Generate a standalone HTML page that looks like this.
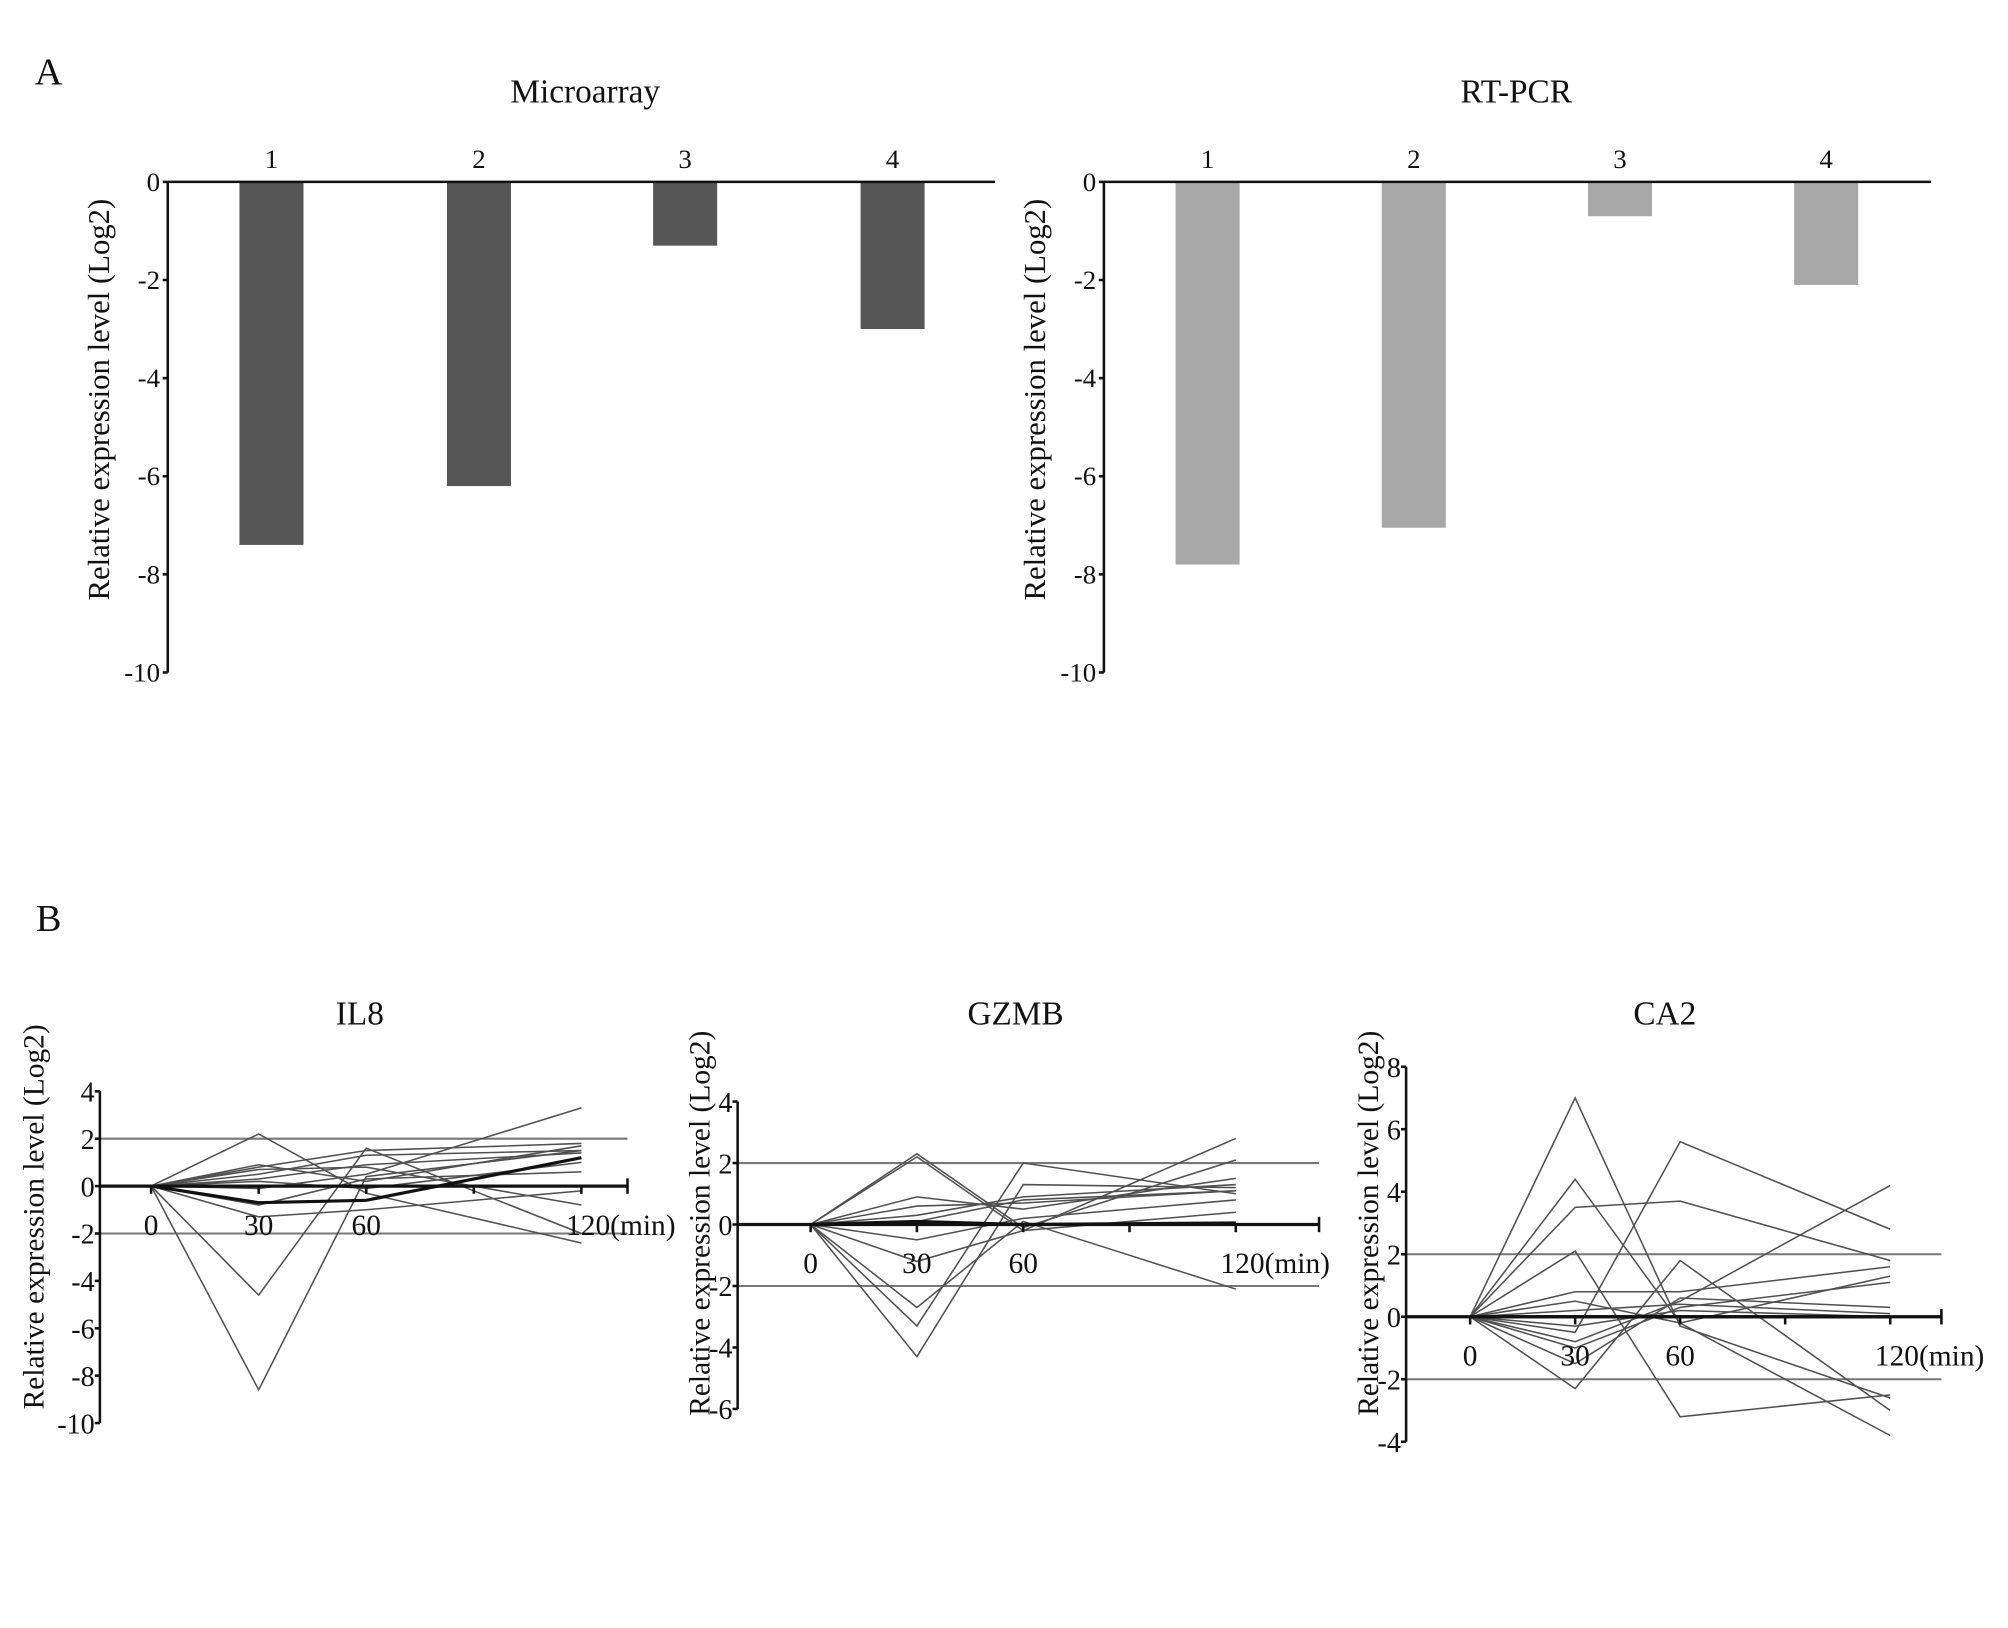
<!DOCTYPE html>
<html><head><meta charset="utf-8">
<style>
html,body{margin:0;padding:0;background:#fff;}
svg{display:block;}
text{font-family:"Liberation Serif",serif;fill:#111;}
</style></head>
<body>
<svg id="fig" width="2008" height="1628" viewBox="0 0 1568 1271" preserveAspectRatio="none" xmlns="http://www.w3.org/2000/svg">
<text x="38" y="66" font-size="30" text-anchor="middle">A</text>
<text x="38" y="727" font-size="30" text-anchor="middle">B</text>
</svg>
<script>
// Panel A data
const barCategories = ["1","2","3","4"];
const microarrayValues = [-7.4, -6.2, -1.3, -3.0];
const rtpcrValues = [-7.8, -7.05, -0.7, -2.1];
const barTicks = [0,-2,-4,-6,-8,-10];

// Panel B data (time points 0,30,60,120)
const timePoints = [0,30,60,120];
const timeLabels = ["0","30","60","120(min)"];
const il8Series = [
 [0,2.2,-0.3,-2.4],[0,-4.6,1.6,-2.0],[0,-8.6,0.4,1.5],[0,-1.3,-1.0,-0.2],
 [0,0.8,1.5,1.8],[0,0.5,1.3,1.5],[0,0.3,0.9,1.4],[0,-0.1,0.5,3.3],
 [0,0.7,0.8,-0.8],[0,-0.8,0.3,0.6],[0,0.2,-0.1,1.0],[0,0.9,0.2,1.7]];
const il8Bold = [0,-0.7,-0.6,1.2];
const il8Ticks = [4,2,0,-2,-4,-6,-8,-10];
const gzmbSeries = [
 [0,2.2,-0.2,2.8],[0,2.3,-0.1,2.1],[0,-4.3,1.3,1.2],[0,-3.3,2.0,1.0],
 [0,-2.7,0.1,-2.1],[0,0.9,0.5,1.5],[0,0.6,0.7,1.1],[0,0.3,0.9,1.3],
 [0,-0.5,0.2,0.8],[0,-1.2,-0.2,0.4],[0,0.1,0.8,1.1]];
const gzmbBold = [0,0.1,0.0,0.05];
const gzmbTicks = [4,2,0,-2,-4,-6];
const ca2Series = [
 [0,7.0,-0.3,-2.6],[0,4.4,-0.2,-3.8],[0,3.5,3.7,1.8],[0,-0.5,5.6,2.8],
 [0,2.1,-3.2,-2.5],[0,-2.3,1.8,-3.0],[0,-0.8,0.5,4.2],[0,0.8,0.8,1.6],
 [0,-1.0,0.3,1.1],[0,0.5,-0.2,1.3],[0,-1.5,0.6,0.3],[0,-0.3,0.2,0.0],[0,0.2,0.4,0.1]];
const ca2Bold = [0,0.0,0.0,0.0];
const ca2Ticks = [8,6,4,2,0,-2,-4];

const NS="http://www.w3.org/2000/svg";
const svg=document.getElementById('fig');
function el(tag,attrs,parent){const e=document.createElementNS(NS,tag);for(const k in attrs)e.setAttribute(k,attrs[k]);(parent||svg).appendChild(e);return e;}
function txt(s,attrs,parent){const t=el('text',attrs,parent);t.textContent=s;return t;}

function barChart(name,title,values,color,ax,axEnd,centers,titleX){
  const g=el('g',{});
  
  
  const y0=142, yMin=525, vMin=-10;
  const y=v=>y0+(v/vMin)*(yMin-y0);
  const t=txt(title,{x:titleX,y:80,'font-size':26,'text-anchor':'middle'},g);
  
  
  values.forEach((v,i)=>{
    const r=el('rect',{x:centers[i]-25,y:y(0),width:50,height:y(v)-y(0),fill:color},g);
    
    
    const c=txt(barCategories[i],{x:centers[i],y:131,'font-size':21,'text-anchor':'middle'},g);
    
    
  });
  el('line',{x1:ax,y1:y(0),x2:axEnd,y2:y(0),stroke:'#111','stroke-width':2},g);
  el('line',{x1:ax,y1:y(0),x2:ax,y2:y(-10),stroke:'#111','stroke-width':2},g);
  barTicks.forEach(v=>{
    el('line',{x1:ax-4,y1:y(v),x2:ax,y2:y(v),stroke:'#111','stroke-width':2},g);
    const l=txt(String(v),{x:ax-6,y:y(v)+7,'font-size':21,'text-anchor':'end'},g);
    
    
  });
  const yt=txt('Relative expression level (Log2)',{x:0,y:0,'font-size':24,'text-anchor':'middle',transform:`translate(${ax-46},312) rotate(-90)`},g);
  
  
}
barChart('microarray-chart','Microarray',microarrayValues,'#565656',131,777,[212,374,535,697],457);
barChart('rtpcr-chart','RT-PCR',rtpcrValues,'#a8a8a8',862,1508,[943,1104,1265,1426],1184);

function lineChart(name,title,series,bold,ticks,o){
  const g=el('g',{});
  
  
  const y=v=>o.y0-v*o.unit;
  const x=t=>o.x0+(t/30)*o.step;
  const tt=txt(title,{x:o.titleX,y:800,'font-size':26,'text-anchor':'middle'},g);
  
  
  [2,-2].forEach(v=>{
    const th=el('line',{x1:o.ax,y1:y(v),x2:o.axEnd,y2:y(v),stroke:'#777','stroke-width':1.6},g);
    
    
  });
  series.forEach((s,i)=>{
    const p=el('polyline',{points:s.map((v,j)=>x(timePoints[j])+','+y(v)).join(' '),fill:'none',stroke:'#505050','stroke-width':1.2},g);
    
    
  });
  const b=el('polyline',{points:bold.map((v,j)=>x(timePoints[j])+','+y(v)).join(' '),fill:'none',stroke:'#111','stroke-width':2.5},g);
  
  
  el('line',{x1:o.ax,y1:y(0),x2:o.axEnd,y2:y(0),stroke:'#111','stroke-width':2.5},g);
  for(let t=0;t<=120;t+=30){el('line',{x1:x(t),y1:y(0),x2:x(t),y2:y(0)+6,stroke:'#111','stroke-width':2},g);}
  el('line',{x1:o.axEnd,y1:y(0)-6,x2:o.axEnd,y2:y(0)+6,stroke:'#111','stroke-width':2},g);
  el('line',{x1:o.ax,y1:y(ticks[0]),x2:o.ax,y2:y(ticks[ticks.length-1]),stroke:'#111','stroke-width':2},g);
  ticks.forEach(v=>{
    el('line',{x1:o.ax-4,y1:y(v),x2:o.ax,y2:y(v),stroke:'#111','stroke-width':2},g);
    const l=txt(String(v),{x:o.ax-4,y:y(v)+8,'font-size':22,'text-anchor':'end'},g);
    
    
  });
  timePoints.forEach((t,j)=>{
    const l=txt(timeLabels[j],{x:x(t)-(j===3?12:0),y:y(0)+o.labOff,'font-size':23,'text-anchor':j===3?'start':'middle'},g);
    
    
  });
  const yt=txt('Relative expression level (Log2)',{x:0,y:0,'font-size':23,'text-anchor':'middle',transform:`translate(${o.ax-o.titleOff},${o.ymid}) rotate(-90)`},g);
  
  
}
lineChart('il8-chart','IL8',il8Series,il8Bold,il8Ticks,{ax:78,axEnd:490,x0:118,step:84,y0:926,unit:18.5,titleX:281,labOff:38,ymid:950,titleOff:44});
lineChart('gzmb-chart','GZMB',gzmbSeries,gzmbBold,gzmbTicks,{ax:576,axEnd:1030,x0:633,step:83,y0:956,unit:24,titleX:793,labOff:38,ymid:955,titleOff:22});
lineChart('ca2-chart','CA2',ca2Series,ca2Bold,ca2Ticks,{ax:1098,axEnd:1516,x0:1148,step:82,y0:1028,unit:24.4,titleX:1300,labOff:38,ymid:955,titleOff:22});
</script>
</body></html>
